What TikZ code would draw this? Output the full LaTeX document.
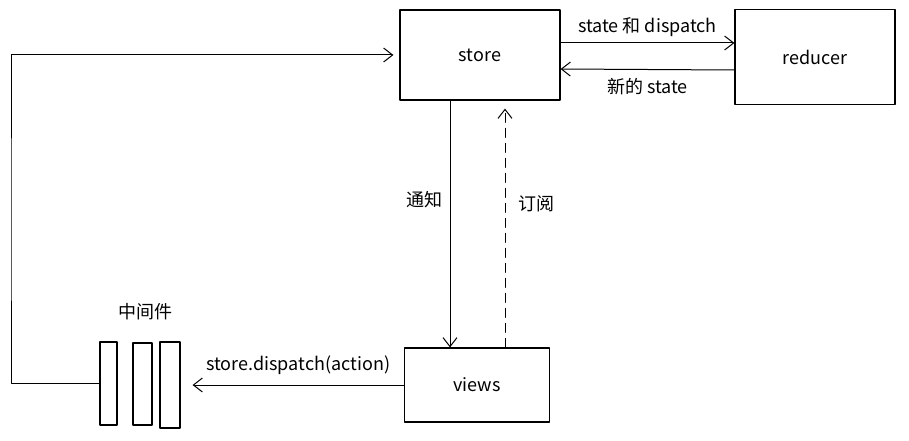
\documentclass[tikz,border=0pt]{standalone}
\usepackage{fontspec}
\setmainfont{Noto Sans CJK SC}
\usepackage{tikz}
\usetikzlibrary{arrows.meta}
\tikzset{
  box/.style={draw,line width=1.2pt,inner sep=0pt},
  bar/.style={draw,line width=1.2pt,inner sep=0pt,minimum width=18pt},
  lbl/.style={font=\fontsize{18}{20}\selectfont}
}
\begin{document}
\begin{tikzpicture}[line cap=round,line join=round,>={Straight Barb[length=9pt,width=14pt]},x=1pt,y=1pt]
\useasboundingbox (0,0) rectangle (909,440);
\node (store) [box,lbl,minimum width=160pt,minimum height=90pt] at (480,385) {store};
\node (reducer) [box,lbl,minimum width=160pt,minimum height=95pt] at (815,383) {reducer};
\node (views) [box,lbl,minimum width=145pt,minimum height=74pt] at (477,55) {views};
\node (mw1) [bar,minimum width=17pt,minimum height=83pt] at (108.5,56.5) {};
\node (mw2) [bar,minimum width=19pt,minimum height=82pt] at (142.5,56) {};
\node (mw3) [bar,minimum width=20pt,minimum height=86pt] at (170,55) {};
\node (mwlbl) [lbl] at (145,128) {中间件};
\coordinate (loop) at (11,220);
% store <-> reducer
\draw [->,line width=1pt] ([yshift=12pt]store.east) -- ([yshift=14pt]reducer.west) node (sd) [lbl,midway,above=3pt] {state 和 dispatch};
\draw [->,line width=1pt] ([yshift=-13pt]reducer.west) -- ([yshift=-14pt]store.east) node (ns) [lbl,midway,below=5pt] {新的 state};
% store <-> views
\draw [->,line width=1pt] ([xshift=-30pt]store.south) -- ([xshift=-30pt]store.south |- views.north) node (tz) [lbl,pos=0.4,left=4pt] {通知};
\draw [->,line width=1pt,dashed,dash pattern=on 9pt off 6pt] ([xshift=25pt]store.south |- views.north) -- ([xshift=25pt,yshift=-8pt]store.south) node (dy) [lbl,pos=0.6,right=10pt] {订阅};
% views -> middleware -> store
\draw [->,line width=1pt] (views.west) -- ([xshift=12pt]mw3.east) node (dp) [lbl,midway,above=7pt] {store.dispatch(action)};
\draw [->,line width=1pt] (mw1.west) -| (loop) |- ([xshift=-6pt]store.west);
\end{tikzpicture}
\end{document}
